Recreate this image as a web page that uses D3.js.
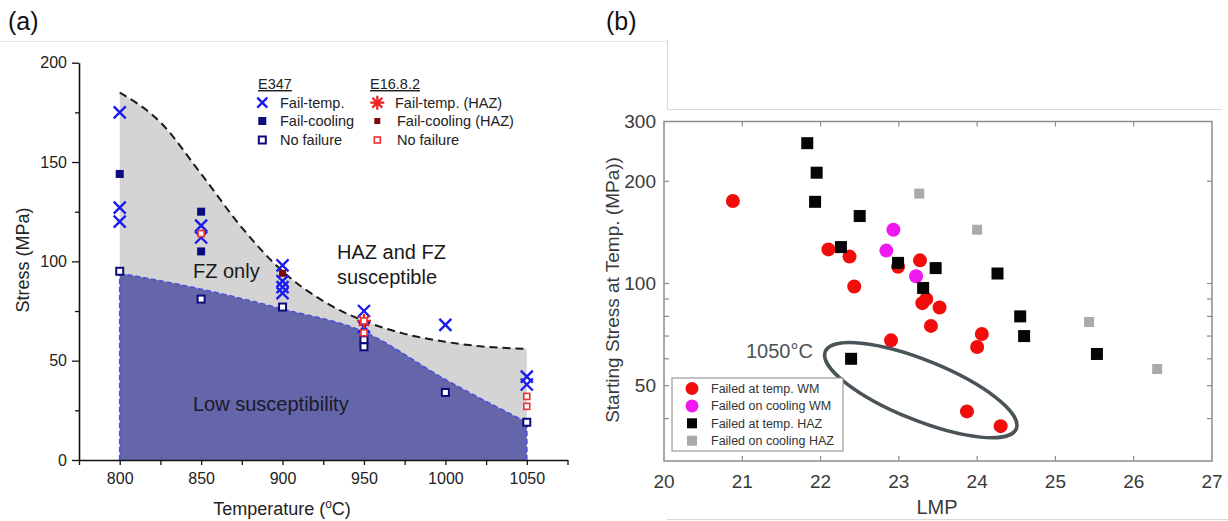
<!DOCTYPE html>
<html>
<head>
<meta charset="utf-8">
<script src="https://cdn.jsdelivr.net/npm/d3@7"></script>
<style>
  body { margin: 0; background: #fff; }
  svg text { font-family: Arial, "Liberation Sans", sans-serif; }
</style>
</head>
<body>
<div id="chart"></div>
<script>
// ---- panel (a) data: [temperature, stress] ----
const tempTicks = [800, 850, 900, 950, 1000, 1050];
const tempMinor = [775, 825, 875, 925, 975, 1025, 1075];
const stressTicksA = [0, 50, 100, 150, 200];
const stressMinorA = [25, 75, 125, 175];
const e347FailTemp = [[800, 175], [800, 127], [800, 120], [850, 118], [850, 112], [900, 98], [900, 90], [900, 87], [900, 84], [950, 75], [950, 67], [1000, 68], [1050, 42], [1050, 38]];
const e347FailCool = [[800, 144], [850, 125], [850, 105]];
const e347NoFail = [[800, 95], [850, 81], [900, 77], [950, 60.5], [950, 57], [1000, 34], [1050, 19]];
const e1682FailTemp = [[950, 70]];
const e1682FailCool = [[900, 94]];
const e1682NoFail = [[850, 114], [950, 70], [950, 64], [1050, 32], [1050, 27]];
const upperBound = [[800, 185], [825, 170], [850, 144], [875, 117], [900, 95], [925, 80], [950, 70], [975, 63.5], [1000, 59.5], [1025, 57], [1050, 56]];
const lowerBound = [[800, 94], [850, 86], [900, 76], [950, 64.5], [1000, 40.5], [1050, 19]];

// ---- panel (b) data: [LMP, starting stress] ----
const lmpTicks = [20, 21, 22, 23, 24, 25, 26, 27];
const stressTicksB = [50, 100, 200, 300];
const stressMinorB = [40, 50, 60, 70, 80, 90, 100, 200];
const wmTemp = [[20.88, 175], [22.10, 126], [22.37, 120], [22.43, 98], [22.90, 68], [22.99, 112], [23.27, 117], [23.30, 87.5], [23.35, 90], [23.52, 85], [23.41, 75], [24.06, 71], [24.00, 65], [23.87, 42], [24.30, 38]];
const wmCool = [[22.93, 144], [22.84, 125], [23.22, 105]];
const hazTemp = [[21.83, 259], [21.95, 212], [21.93, 174], [22.50, 158], [22.26, 128], [22.99, 115], [23.47, 111], [24.26, 107], [23.31, 97], [24.55, 80], [24.60, 70], [25.53, 62], [22.39, 60]];
const hazCool = [[23.26, 184], [24.00, 144], [25.43, 77], [26.30, 56]];
const legendB = ["Failed at temp. WM", "Failed on cooling WM", "Failed at temp. HAZ", "Failed on cooling HAZ"];

const svg = d3.select("#chart").append("svg")
    .attr("width", 1228)
    .attr("height", 521);

// faint frame lines from the source figure
svg.append("line").attr("x1", 0).attr("x2", 667).attr("y1", 41.5).attr("y2", 41.5).attr("stroke", "#e6e6e6");
svg.append("path").attr("d", "M667.5,40V109.5H1222").attr("fill", "none").attr("stroke", "#d9d9d9");
svg.append("line").attr("x1", 667).attr("x2", 1228).attr("y1", 519.5).attr("y2", 519.5).attr("stroke", "#d9d9d9");

svg.append("text").attr("x", 8).attr("y", 30).style("font-size", "25px").attr("fill", "#111").text("(a)");
svg.append("text").attr("x", 606).attr("y", 30).style("font-size", "25px").attr("fill", "#111").text("(b)");

// ================= panel (a) =================
const xA = d3.scaleLinear().domain([775, 1075]).range([79, 567.5]);
const yA = d3.scaleLinear().domain([0, 200]).range([460, 62.7]);

const gA = svg.append("g");
const curveA = d3.curveMonotoneX;

// gray region under dashed bound
gA.append("path")
    .datum(upperBound)
    .attr("fill", "#d4d4d4")
    .attr("d", d3.area().x(d => xA(d[0])).y0(yA(0)).y1(d => yA(d[1])).curve(curveA));

// blue low-susceptibility region
gA.append("path")
    .datum(lowerBound)
    .attr("fill", "#6566a9")
    .attr("d", d3.area().x(d => xA(d[0])).y0(yA(0)).y1(d => yA(d[1])).curve(curveA));

// dashed blue outline: left side, top curve, right side
const blueDash = function(sel) {
  return sel.attr("fill", "none").attr("stroke", "#4b4fe0").attr("stroke-width", 1.6).attr("stroke-dasharray", "5,3");
};
blueDash(gA.append("path").datum(lowerBound)
    .attr("d", d3.line().x(d => xA(d[0])).y(d => yA(d[1])).curve(curveA)));
blueDash(gA.append("line")
    .attr("x1", xA(800)).attr("x2", xA(800)).attr("y1", yA(0)).attr("y2", yA(lowerBound[0][1])));
blueDash(gA.append("line")
    .attr("x1", xA(1050)).attr("x2", xA(1050)).attr("y1", yA(0)).attr("y2", yA(lowerBound[lowerBound.length - 1][1])));

gA.append("path")
    .datum(upperBound)
    .attr("fill", "none")
    .attr("stroke", "#1a1a1a")
    .attr("stroke-width", 2)
    .attr("stroke-dasharray", "8,5")
    .attr("d", d3.line().x(d => xA(d[0])).y(d => yA(d[1])).curve(curveA));

// axes
gA.append("g").attr("transform", "translate(" + xA(775) + ",0)")
    .call(d3.axisLeft(yA).tickValues(stressTicksA).tickSize(7).tickSizeOuter(0).tickPadding(5));
gA.append("g").attr("transform", "translate(" + xA(775) + ",0)")
    .call(d3.axisLeft(yA).tickValues(stressMinorA).tickSize(4).tickFormat("").tickSizeOuter(0))
    .select(".domain").remove();
gA.append("g").attr("transform", "translate(0," + yA(0) + ")")
    .call(d3.axisBottom(xA).tickValues(tempTicks).tickFormat(d3.format("d")).tickSize(5).tickSizeOuter(0).tickPadding(8));
gA.append("g").attr("transform", "translate(0," + yA(0) + ")")
    .call(d3.axisBottom(xA).tickValues(tempMinor).tickSize(5).tickFormat("").tickSizeOuter(0))
    .select(".domain").remove();
gA.selectAll(".domain").attr("stroke", "#111").attr("stroke-width", 1.6);
gA.selectAll(".tick line").attr("stroke", "#111").attr("stroke-width", 1.3);
gA.selectAll(".tick text").style("font-size", "16px").style("font-family", "Arial, 'Liberation Sans', sans-serif").attr("fill", "#222");

// axis titles
gA.append("text")
    .attr("transform", "translate(29,260) rotate(-90)")
    .attr("text-anchor", "middle")
    .style("font-size", "18px")
    .attr("fill", "#222")
    .text("Stress (MPa)");
const xt = gA.append("text")
    .attr("x", 282).attr("y", 515)
    .attr("text-anchor", "middle")
    .style("font-size", "18px")
    .attr("fill", "#222");
xt.append("tspan").text("Temperature (");
xt.append("tspan").attr("dy", -7).style("font-size", "12px").text("o");
xt.append("tspan").attr("dy", 7).text("C)");

// region labels
gA.append("text").attr("x", 193).attr("y", 278).style("font-size", "20px").attr("fill", "#1a1a1a").text("FZ only");
gA.append("text").attr("x", 337).attr("y", 259).style("font-size", "20px").attr("fill", "#1a1a1a").text("HAZ and FZ");
gA.append("text").attr("x", 337).attr("y", 284).style("font-size", "20px").attr("fill", "#1a1a1a").text("susceptible");
gA.append("text").attr("x", 193).attr("y", 411).style("font-size", "20px").attr("fill", "#1a1a2a").text("Low susceptibility");

// marker helpers
function drawX(g, x, y, s, color) {
  g.append("path")
    .attr("d", "M" + (x - s) + "," + (y - s) + "L" + (x + s) + "," + (y + s) + "M" + (x - s) + "," + (y + s) + "L" + (x + s) + "," + (y - s))
    .attr("stroke", color).attr("stroke-width", 2.4).attr("fill", "none");
}
function drawStar(g, x, y, s, color) {
  let d = "";
  [0, 45, 90, 135].forEach(function(a) {
    const r = a * Math.PI / 180;
    d += "M" + (x - s * Math.cos(r)) + "," + (y - s * Math.sin(r)) + "L" + (x + s * Math.cos(r)) + "," + (y + s * Math.sin(r));
  });
  g.append("path").attr("d", d).attr("stroke", color).attr("stroke-width", 2.2).attr("fill", "none");
}
function drawSq(g, x, y, s, fill, stroke, sw) {
  g.append("rect")
    .attr("x", x - s / 2).attr("y", y - s / 2)
    .attr("width", s).attr("height", s)
    .attr("fill", fill).attr("stroke", stroke).attr("stroke-width", sw);
}

const pts = gA.append("g");
e347FailCool.forEach(d => drawSq(pts, xA(d[0]), yA(d[1]), 8, "#0b0b7e", "none", 0));
e347NoFail.forEach(d => drawSq(pts, xA(d[0]), yA(d[1]), 7, "#fff", "#0b0b7e", 2));
e347FailTemp.forEach(d => drawX(pts, xA(d[0]), yA(d[1]), 6, "#1b1bf0"));
e1682FailTemp.forEach(d => drawStar(pts, xA(d[0]), yA(d[1]), 7, "#f02020"));
e1682FailCool.forEach(d => drawSq(pts, xA(d[0]), yA(d[1]), 7, "#7a0a0a", "none", 0));
e1682NoFail.forEach(d => drawSq(pts, xA(d[0]), yA(d[1]), 6, "#fff", "#f03030", 1.6));

// legend (a)
const legA = gA.append("g");
legA.append("text").attr("x", 258).attr("y", 89).style("font-size", "14.5px").style("text-decoration", "underline").attr("fill", "#222").text("E347");
legA.append("text").attr("x", 370).attr("y", 89).style("font-size", "14.5px").style("text-decoration", "underline").attr("fill", "#222").text("E16.8.2");
const legRows = [102.7, 121, 140];
drawX(legA, 262.3, legRows[0], 5, "#1b1bf0");
drawSq(legA, 262.3, legRows[1], 8, "#0b0b7e", "none", 0);
drawSq(legA, 262.3, legRows[2], 7, "#fff", "#0b0b7e", 2);
drawStar(legA, 377.3, legRows[0], 7, "#f02020");
drawSq(legA, 377.3, legRows[1], 6, "#7a0a0a", "none", 0);
drawSq(legA, 377.3, legRows[2], 6, "#fff", "#f03030", 1.6);
["Fail-temp.", "Fail-cooling", "No failure"].forEach(function(t, i) {
  legA.append("text").attr("x", 280).attr("y", legRows[i]).attr("dy", "0.35em").style("font-size", "14.5px").attr("fill", "#222").text(t);
});
["Fail-temp. (HAZ)", "Fail-cooling (HAZ)", "No failure"].forEach(function(t, i) {
  legA.append("text").attr("x", i === 0 ? 395 : 397).attr("y", legRows[i]).attr("dy", "0.35em").style("font-size", "14.5px").attr("fill", "#222").text(t);
});

// ================= panel (b) =================
const xB = d3.scaleLinear().domain([20, 27]).range([664, 1212]);
const yB = d3.scaleLog().domain([30, 300]).range([461, 121.5]);
const gB = svg.append("g");

gB.append("rect")
    .attr("x", xB(20)).attr("y", yB(300))
    .attr("width", xB(27) - xB(20)).attr("height", yB(30) - yB(300))
    .attr("fill", "none").attr("stroke", "#8c8c8c").attr("stroke-width", 1.5);

// inward ticks
lmpTicks.slice(1, -1).forEach(function(v) {
  gB.append("line").attr("x1", xB(v)).attr("x2", xB(v)).attr("y1", yB(30)).attr("y2", yB(30) - 5).attr("stroke", "#8c8c8c").attr("stroke-width", 1.2);
  gB.append("line").attr("x1", xB(v)).attr("x2", xB(v)).attr("y1", yB(300)).attr("y2", yB(300) + 5).attr("stroke", "#8c8c8c").attr("stroke-width", 1.2);
});
stressMinorB.forEach(function(v) {
  gB.append("line").attr("x1", xB(20)).attr("x2", xB(20) + 5).attr("y1", yB(v)).attr("y2", yB(v)).attr("stroke", "#8c8c8c").attr("stroke-width", 1.2);
  gB.append("line").attr("x1", xB(27)).attr("x2", xB(27) - 5).attr("y1", yB(v)).attr("y2", yB(v)).attr("stroke", "#8c8c8c").attr("stroke-width", 1.2);
});
lmpTicks.forEach(function(v) {
  gB.append("text").attr("x", xB(v)).attr("y", 481).attr("dy", "0.35em").attr("text-anchor", "middle")
    .style("font-size", "19px").attr("fill", "#3a3a3a").text(v);
});
stressTicksB.forEach(function(v) {
  gB.append("text").attr("x", 656).attr("y", yB(v)).attr("dy", "0.35em").attr("text-anchor", "end")
    .style("font-size", "19px").attr("fill", "#3a3a3a").text(v);
});
gB.append("text").attr("x", 937).attr("y", 507).attr("dy", "0.35em").attr("text-anchor", "middle")
    .style("font-size", "20px").attr("fill", "#3a3a3a").text("LMP");
gB.append("text")
    .attr("transform", "translate(619,290) rotate(-90)")
    .attr("text-anchor", "middle")
    .style("font-size", "19px")
    .attr("fill", "#3a3a3a")
    .text("Starting Stress at Temp. (MPa))");

// points
const ptsB = gB.append("g");
ptsB.selectAll(".wmT").data(wmTemp).enter().append("circle")
    .attr("cx", d => xB(d[0])).attr("cy", d => yB(d[1])).attr("r", 7).attr("fill", "#f20d0d");
ptsB.selectAll(".wmC").data(wmCool).enter().append("circle")
    .attr("cx", d => xB(d[0])).attr("cy", d => yB(d[1])).attr("r", 7).attr("fill", "#f018f0");
ptsB.selectAll(".hzT").data(hazTemp).enter().append("rect")
    .attr("x", d => xB(d[0]) - 6).attr("y", d => yB(d[1]) - 6).attr("width", 12).attr("height", 12).attr("fill", "#050505");
ptsB.selectAll(".hzC").data(hazCool).enter().append("rect")
    .attr("x", d => xB(d[0]) - 5).attr("y", d => yB(d[1]) - 5).attr("width", 10).attr("height", 10).attr("fill", "#aaaaaa");

// 1050°C annotation
const ellC = [23.28, 48.5];
gB.append("ellipse")
    .attr("transform", "translate(" + xB(ellC[0]) + "," + yB(ellC[1]) + ") rotate(22)")
    .attr("rx", 103).attr("ry", 30)
    .attr("fill", "none").attr("stroke", "#4a5357").attr("stroke-width", 3.5);
gB.append("text").attr("x", 746).attr("y", 351).attr("dy", "0.35em")
    .style("font-size", "20px").attr("fill", "#4a5357").text("1050°C");

// legend (b)
const legB = gB.append("g");
legB.append("rect").attr("x", 672).attr("y", 378).attr("width", 171).attr("height", 73)
    .attr("fill", "#fff").attr("stroke", "#9a9a9a").attr("stroke-width", 1.2);
const legColors = ["#f20d0d", "#f018f0", "#050505", "#aaaaaa"];
legendB.forEach(function(t, i) {
  const y = 388.5 + i * 17.4;
  if (i < 2) {
    legB.append("circle").attr("cx", 692).attr("cy", y).attr("r", 6.5).attr("fill", legColors[i]);
  } else {
    legB.append("rect").attr("x", 692 - 5).attr("y", y - 5).attr("width", 10).attr("height", 10).attr("fill", legColors[i]);
  }
  legB.append("text").attr("x", 711).attr("y", y).attr("dy", "0.35em")
    .style("font-size", "12.5px").attr("fill", "#333").text(t);
});
</script>
</body>
</html>
